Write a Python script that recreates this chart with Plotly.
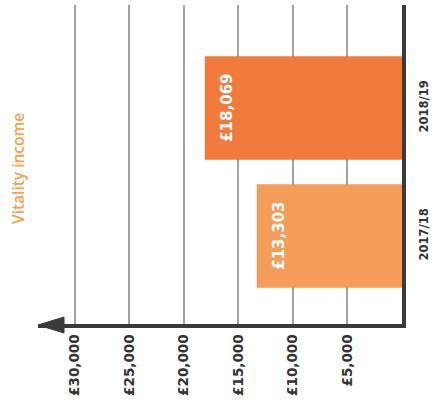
import plotly.graph_objects as go

# Vitality income by financial year
years = ["2017/18", "2018/19"]
income = [13303, 18069]
value_labels = ["£13,303", "£18,069"]
bar_colors = ["#F49C58", "#F07B3C"]

tick_values = [5000, 10000, 15000, 20000, 25000, 30000]
tick_labels = ["£5,000", "£10,000", "£15,000", "£20,000", "£25,000", "£30,000"]

title_text = "Vitality income"

W, H = 433, 405
ML, MR, MT, MB = 38, 31, 5, 81
X_MAX = 33350

LABEL_FONT = "DejaVu Sans"

fig = go.Figure()
fig.add_trace(go.Bar(
    x=income,
    y=years,
    orientation="h",
    marker=dict(color=bar_colors, line=dict(width=0)),
    width=0.81,
    hoverinfo="skip",
))

# Value labels rotated inside the bar tips
for v, yr, lab in zip(income, years, value_labels):
    fig.add_annotation(
        x=v, y=yr, xref="x", yref="y",
        text=lab, showarrow=False, textangle=-90,
        xshift=22,
        font=dict(family=LABEL_FONT, size=15, color="white", weight="bold"),
    )

pw = W - ML - MR
ph = H - MT - MB
def px(xp):
    return (xp - ML) / pw
def py(yp):
    return (H - MB - yp) / ph

# Rotated chart title on the left
fig.add_annotation(
    x=px(18), y=py(169),
    xref="paper", yref="paper", xanchor="center", yanchor="middle",
    text=title_text, showarrow=False, textangle=-90,
    font=dict(family="Open Sans", size=15.5, color="#F5A14E", weight=600),
)

# Arrowhead at the far end of the value axis
tri = f"M {px(38)} {py(325)} L {px(64)} {py(317)} L {px(64)} {py(333)} Z"
fig.add_shape(type="path", path=tri, xref="paper", yref="paper",
              fillcolor="#3a3a3a", line=dict(color="#3a3a3a", width=1))

fig.update_layout(
    width=W, height=H,
    margin=dict(l=ML, r=MR, t=MT, b=MB, autoexpand=False),
    paper_bgcolor="white", plot_bgcolor="white",
    showlegend=False,
    xaxis=dict(
        range=[X_MAX, 0],
        tickvals=tick_values, ticktext=tick_labels,
        tickangle=-90,
        showgrid=True, gridcolor="#a3a3a3", gridwidth=1.5,
        zeroline=False,
        showline=True, linecolor="#3a3a3a", linewidth=4,
        ticks="", ticklabelstandoff=1,
        tickfont=dict(family=LABEL_FONT, size=13.5, color="#333333", weight="bold"),
        automargin=False,
        fixedrange=True,
    ),
    yaxis=dict(
        side="right",
        range=[-0.6875, 1.805],
        tickangle=-90,
        showgrid=False, zeroline=False,
        showline=True, linecolor="#3a3a3a", linewidth=4,
        ticks="", ticklabelstandoff=8,
        tickfont=dict(family=LABEL_FONT, size=11.5, color="#333333", weight="bold"),
        automargin=False,
        fixedrange=True,
    ),
)

fig.write_html("out.html")
